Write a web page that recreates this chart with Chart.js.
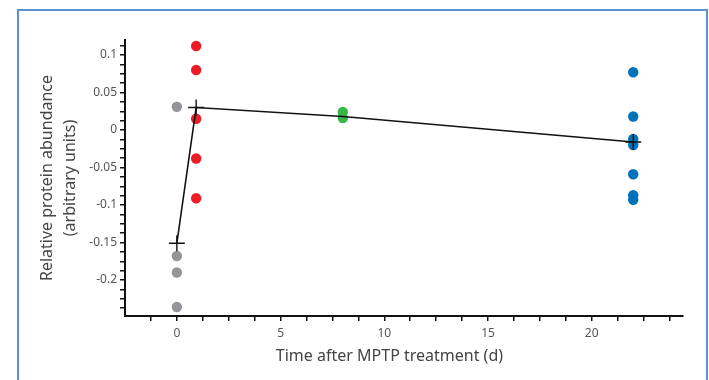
<!DOCTYPE html>
<html lang="en">
<head>
<meta charset="UTF-8">
<title>Relative protein abundance after MPTP</title>
<script src="https://cdn.jsdelivr.net/npm/chart.js"></script>
<style>
  body { margin: 0; background: #fff; }
  #wrap { position: relative; width: 709px; height: 380px; overflow: hidden; }
  #frame {
    position: absolute; left: 17px; top: 9px; width: 691px; height: 420px;
    border: 2px solid #5a93d4; box-sizing: border-box; pointer-events: none;
  }
</style>
</head>
<body>
<div id="wrap">
  <canvas id="chart" width="709" height="380"></canvas>
  <div id="frame"></div>
</div>
<script>
// time points (days after MPTP) and individual values per group
const days = [0, 0.93, 8, 22];
const day0 = [0.031, -0.168, -0.190, -0.236];
const day1 = [0.112, 0.080, 0.015, -0.038, -0.091];
const day8 = [0.024, 0.016];
const day22 = [0.077, 0.018, -0.012, -0.020, -0.059, -0.087, -0.093];
const groupMeans = [-0.151, 0.030, 0.018, -0.016];

const groupColors = ["#939598", "#ed1c24", "#39b54a", "#0072bc"];

// tick steps
const yStep = 0.0125, yLabelStep = 0.05;
const xStep = 1.25, xLabelStep = 5;

function pts(x, vals) {
    return vals.map(v => ({ x: x, y: v }));
}

function isMultiple(v, step) {
    const r = v / step;
    return Math.abs(r - Math.round(r)) < 1e-6;
}

const groups = [day0, day1, day8, day22];
const dotSets = groups.map((vals, i) => ({
    data: pts(days[i], vals),
    backgroundColor: groupColors[i],
    borderWidth: 0,
    pointRadius: 5.2,
    order: 2
}));

const meanSet = {
    data: days.map((d, i) => ({ x: d, y: groupMeans[i] })),
    showLine: true,
    borderColor: "#111",
    borderWidth: 1.6,
    pointStyle: "cross",
    pointRadius: [8, 8, 0, 8],
    pointBorderColor: "#111",
    pointBorderWidth: 1.4,
    order: 1
};

const textFont = "'Noto Sans', sans-serif";

// title sits a bit left of centre in the original, trailing spaces nudge it
const xTitle = "Time after MPTP treatment (d)" + "\u00a0".repeat(7);

new Chart(document.getElementById("chart"), {
    type: "scatter",
    data: { datasets: [meanSet].concat(dotSets) },
    options: {
        responsive: false,
        animation: false,
        layout: { padding: { left: 0, top: 40, right: 26, bottom: 0 } },
        plugins: { legend: { display: false }, tooltip: { enabled: false } },
        scales: {
            x: {
                type: "linear",
                min: -2.5,
                max: 24.4,
                afterFit: s => { s.height = 64; },
                afterBuildTicks: s => {
                    const t = [];
                    for (let i = -1; i <= 19; i++) t.push({ value: i * xStep });
                    s.ticks = t;
                },
                ticks: {
                    autoSkip: false,
                    maxRotation: 0,
                    padding: 5,
                    color: "#555",
                    font: { family: textFont, size: 12 },
                    callback: v => isMultiple(v, xLabelStep) ? String(Math.round(v)) : ""
                },
                grid: { drawOnChartArea: false, drawTicks: true, tickLength: 5, color: "#111", lineWidth: 1.5 },
                border: { color: "#111", width: 2 },
                title: {
                    display: true,
                    text: xTitle,
                    color: "#444",
                    font: { family: textFont, size: 16 },
                    padding: { top: 0, bottom: 14 }
                }
            },
            y: {
                min: -0.248,
                max: 0.12,
                afterFit: s => { s.width = 125; },
                afterBuildTicks: s => {
                    const t = [];
                    for (let i = -19; i <= 9; i++) t.push({ value: i * yStep });
                    s.ticks = t;
                },
                ticks: {
                    autoSkip: false,
                    padding: 3,
                    color: "#555",
                    font: { family: textFont, size: 12 },
                    callback: v => isMultiple(v, yLabelStep) ? String(+v.toFixed(2)) : ""
                },
                grid: { drawOnChartArea: false, drawTicks: true, tickLength: 5, color: "#111", lineWidth: 1.5 },
                border: { color: "#111", width: 2 },
                title: {
                    display: true,
                    text: ["Relative protein abundance", "(arbitrary units)"],
                    color: "#444",
                    font: { family: textFont, size: 16, lineHeight: 1.45 },
                    padding: { top: 36, bottom: 0 }
                }
            }
        }
    }
});
</script>
</body>
</html>
